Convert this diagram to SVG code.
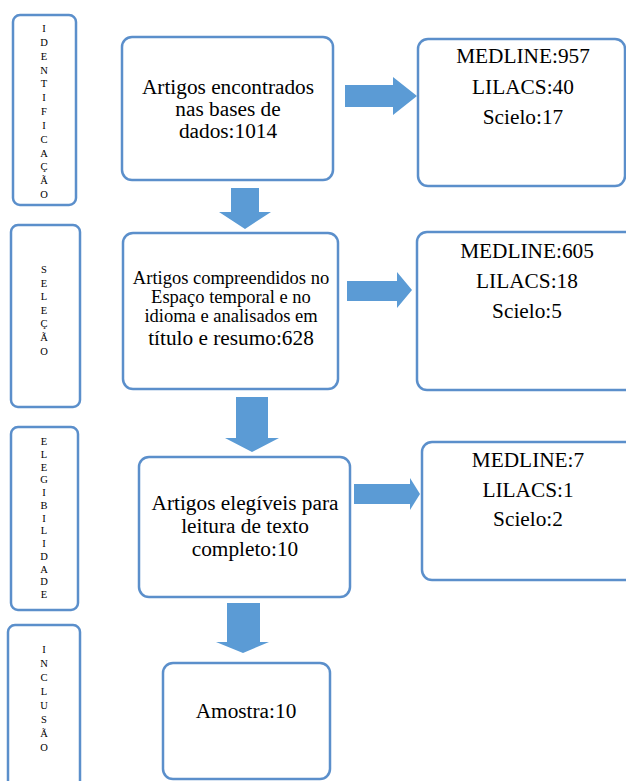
<svg xmlns="http://www.w3.org/2000/svg" width="626" height="781" viewBox="0 0 626 781" font-family="'Liberation Serif', 'DejaVu Serif', serif">
<style>
.box{fill:#fff;stroke:#5B8FCB;stroke-width:2.5}
.arr{fill:#5B9BD5}
text{font-family:'Liberation Serif','DejaVu Serif',serif;fill:#000;text-anchor:middle}
.v{font-size:10.5px}
.m{font-size:21.3px}
.s{font-size:18.5px}
</style>
<rect width="626" height="781" fill="#fff"/>
<g id="connectors">
<polygon class="arr" points="231,188 259,188 259,212 271,212 245,229 219,212 231,212"/>
<polygon class="arr" points="345,85 393,85 393,77 417,96 393,115 393,107 345,107"/>
<polygon class="arr" points="347,281 397,281 397,272 412,290 397,308 397,301 347,301"/>
<polygon class="arr" points="236,397 268,397 268,438 279,438 252,452 225,438 236,438"/>
<polygon class="arr" points="354,484 410,484 410,478 420,494 410,510 410,504 354,504"/>
<polygon class="arr" points="227,603 260,603 260,642 269,642 243,653 216,642 227,642"/>
</g>
<g id="lbl-identificacao">
<rect class="box" x="13" y="15" width="63" height="190" rx="7"/>
<text class="v" x="44" y="32">I</text><text class="v" x="44" y="45.8">D</text><text class="v" x="44" y="59.7">E</text><text class="v" x="44" y="73.5">N</text><text class="v" x="44" y="87.3">T</text><text class="v" x="44" y="101.2">I</text><text class="v" x="44" y="115">F</text><text class="v" x="44" y="128.8">I</text><text class="v" x="44" y="142.7">C</text><text class="v" x="44" y="156.5">A</text><text class="v" x="44" y="170.3">Ç</text><text class="v" x="44" y="184.2">Ã</text><text class="v" x="44" y="198">O</text>
</g>
<g id="lbl-selecao">
<rect class="box" x="11" y="225" width="69" height="182" rx="7"/>
<text class="v" x="44" y="273">S</text><text class="v" x="44" y="286.5">E</text><text class="v" x="44" y="300">L</text><text class="v" x="44" y="313.5">E</text><text class="v" x="44" y="327">Ç</text><text class="v" x="44" y="341">Ã</text><text class="v" x="44" y="355">O</text>
</g>
<g id="lbl-elegibilidade">
<rect class="box" x="11" y="427" width="67" height="183" rx="7"/>
<text class="v" x="44" y="445">E</text><text class="v" x="44" y="457.8">L</text><text class="v" x="44" y="470.5">E</text><text class="v" x="44" y="483.3">G</text><text class="v" x="44" y="496">I</text><text class="v" x="44" y="508.8">B</text><text class="v" x="44" y="521.5">I</text><text class="v" x="44" y="534.3">L</text><text class="v" x="44" y="547">I</text><text class="v" x="44" y="559.8">D</text><text class="v" x="44" y="572.5">A</text><text class="v" x="44" y="585.3">D</text><text class="v" x="44" y="598">E</text>
</g>
<g id="lbl-inclusao">
<rect class="box" x="8" y="625" width="72" height="190" rx="7"/>
<text class="v" x="44" y="653">I</text><text class="v" x="44" y="667">N</text><text class="v" x="44" y="681">C</text><text class="v" x="44" y="695">L</text><text class="v" x="44" y="709">U</text><text class="v" x="44" y="723">S</text><text class="v" x="44" y="737">Ã</text><text class="v" x="44" y="751">O</text>
</g>
<g id="n1">
<rect class="box" x="122" y="37" width="211" height="143" rx="10"/>
<text class="m" x="228" y="94">Artigos encontrados</text>
<text class="m" x="228" y="116">nas bases de</text>
<text class="m" x="228" y="138">dados:1014</text>
</g>
<g id="r1">
<rect class="box" x="418" y="39" width="207" height="147" rx="10"/>
<text class="m" x="523" y="63">MEDLINE:957</text>
<text class="m" x="523" y="94">LILACS:40</text>
<text class="m" x="523" y="124">Scielo:17</text>
</g>
<g id="n2">
<rect class="box" x="123" y="233" width="215" height="156" rx="10"/>
<text class="s" x="231" y="284">Artigos compreendidos no</text>
<text class="s" x="231" y="303">Espaço temporal e no</text>
<text class="s" x="231" y="322">idioma e analisados em</text>
<text class="m" x="231" y="345">título e resumo:628</text>
</g>
<g id="r2">
<rect class="box" x="417" y="232" width="225" height="158" rx="10"/>
<text class="m" x="527" y="258">MEDLINE:605</text>
<text class="m" x="527" y="288">LILACS:18</text>
<text class="m" x="527" y="318">Scielo:5</text>
</g>
<g id="n3">
<rect class="box" x="139" y="457" width="211" height="140" rx="10"/>
<text class="m" x="245" y="510">Artigos elegíveis para</text>
<text class="m" x="245" y="533">leitura de texto</text>
<text class="m" x="245" y="556">completo:10</text>
</g>
<g id="r3">
<rect class="box" x="422" y="442" width="220" height="138" rx="10"/>
<text class="m" x="528" y="467">MEDLINE:7</text>
<text class="m" x="528" y="497">LILACS:1</text>
<text class="m" x="528" y="526">Scielo:2</text>
</g>
<g id="n4">
<rect class="box" x="163" y="663" width="167" height="116" rx="10"/>
<text class="m" x="246" y="718">Amostra:10</text>
</g>
</svg>
